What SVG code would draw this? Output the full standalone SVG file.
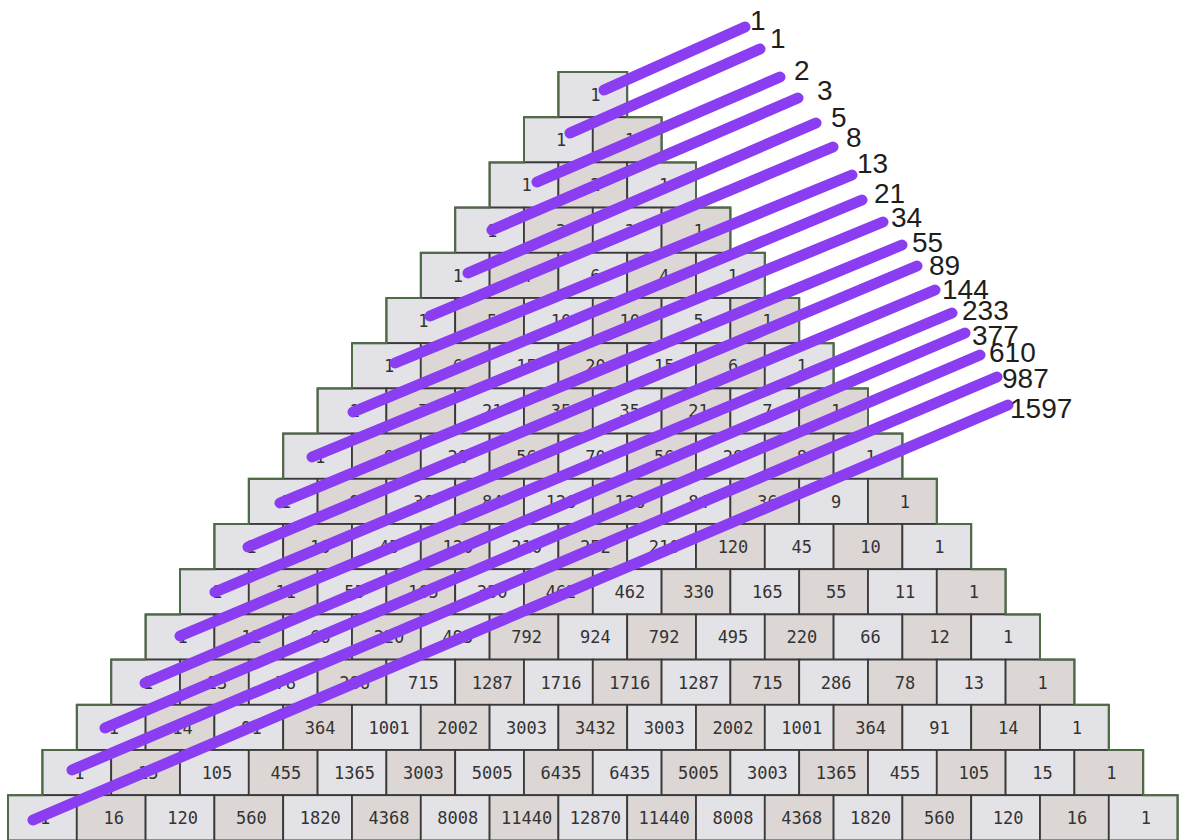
<svg xmlns="http://www.w3.org/2000/svg" width="1180" height="840" viewBox="0 0 1180 840">
<style>
.row rect{fill:#e3e2e7;stroke:#3a3a3a;stroke-width:1.8}
.row > g:nth-child(even) rect{fill:#dcd7d5}
.row text{font-family:"DejaVu Sans Mono",monospace;font-size:17px;fill:#333;text-anchor:middle}
.diag line{stroke:#8b3df2;stroke-width:11;stroke-linecap:round}
.lbl text{font-family:"Liberation Sans",Arial,sans-serif;font-size:28px;fill:#1e1e1e}
</style>
<rect width="1180" height="840" fill="#ffffff"/>
<g id="triangle">
<g id="row-0" class="row" transform="translate(558.4,72)">
<g id="c0-0"><rect x="0" width="68.8" height="45.2"/><text x="37" y="29">1</text></g>
</g>
<g id="row-1" class="row" transform="translate(524,117.2)">
<g id="c1-0"><rect x="0" width="68.8" height="45.2"/><text x="37" y="29">1</text></g>
<g id="c1-1"><rect x="68.8" width="68.8" height="45.2"/><text x="105.8" y="29">1</text></g>
</g>
<g id="row-2" class="row" transform="translate(489.6,162.4)">
<g id="c2-0"><rect x="0" width="68.8" height="45.2"/><text x="37" y="29">1</text></g>
<g id="c2-1"><rect x="68.8" width="68.8" height="45.2"/><text x="105.8" y="29">2</text></g>
<g id="c2-2"><rect x="137.6" width="68.8" height="45.2"/><text x="174.6" y="29">1</text></g>
</g>
<g id="row-3" class="row" transform="translate(455.2,207.6)">
<g id="c3-0"><rect x="0" width="68.8" height="45.2"/><text x="37" y="29">1</text></g>
<g id="c3-1"><rect x="68.8" width="68.8" height="45.2"/><text x="105.8" y="29">3</text></g>
<g id="c3-2"><rect x="137.6" width="68.8" height="45.2"/><text x="174.6" y="29">3</text></g>
<g id="c3-3"><rect x="206.4" width="68.8" height="45.2"/><text x="243.4" y="29">1</text></g>
</g>
<g id="row-4" class="row" transform="translate(420.8,252.8)">
<g id="c4-0"><rect x="0" width="68.8" height="45.2"/><text x="37" y="29">1</text></g>
<g id="c4-1"><rect x="68.8" width="68.8" height="45.2"/><text x="105.8" y="29">4</text></g>
<g id="c4-2"><rect x="137.6" width="68.8" height="45.2"/><text x="174.6" y="29">6</text></g>
<g id="c4-3"><rect x="206.4" width="68.8" height="45.2"/><text x="243.4" y="29">4</text></g>
<g id="c4-4"><rect x="275.2" width="68.8" height="45.2"/><text x="312.2" y="29">1</text></g>
</g>
<g id="row-5" class="row" transform="translate(386.4,298)">
<g id="c5-0"><rect x="0" width="68.8" height="45.2"/><text x="37" y="29">1</text></g>
<g id="c5-1"><rect x="68.8" width="68.8" height="45.2"/><text x="105.8" y="29">5</text></g>
<g id="c5-2"><rect x="137.6" width="68.8" height="45.2"/><text x="174.6" y="29">10</text></g>
<g id="c5-3"><rect x="206.4" width="68.8" height="45.2"/><text x="243.4" y="29">10</text></g>
<g id="c5-4"><rect x="275.2" width="68.8" height="45.2"/><text x="312.2" y="29">5</text></g>
<g id="c5-5"><rect x="344" width="68.8" height="45.2"/><text x="381" y="29">1</text></g>
</g>
<g id="row-6" class="row" transform="translate(352,343.2)">
<g id="c6-0"><rect x="0" width="68.8" height="45.2"/><text x="37" y="29">1</text></g>
<g id="c6-1"><rect x="68.8" width="68.8" height="45.2"/><text x="105.8" y="29">6</text></g>
<g id="c6-2"><rect x="137.6" width="68.8" height="45.2"/><text x="174.6" y="29">15</text></g>
<g id="c6-3"><rect x="206.4" width="68.8" height="45.2"/><text x="243.4" y="29">20</text></g>
<g id="c6-4"><rect x="275.2" width="68.8" height="45.2"/><text x="312.2" y="29">15</text></g>
<g id="c6-5"><rect x="344" width="68.8" height="45.2"/><text x="381" y="29">6</text></g>
<g id="c6-6"><rect x="412.8" width="68.8" height="45.2"/><text x="449.8" y="29">1</text></g>
</g>
<g id="row-7" class="row" transform="translate(317.6,388.4)">
<g id="c7-0"><rect x="0" width="68.8" height="45.2"/><text x="37" y="29">1</text></g>
<g id="c7-1"><rect x="68.8" width="68.8" height="45.2"/><text x="105.8" y="29">7</text></g>
<g id="c7-2"><rect x="137.6" width="68.8" height="45.2"/><text x="174.6" y="29">21</text></g>
<g id="c7-3"><rect x="206.4" width="68.8" height="45.2"/><text x="243.4" y="29">35</text></g>
<g id="c7-4"><rect x="275.2" width="68.8" height="45.2"/><text x="312.2" y="29">35</text></g>
<g id="c7-5"><rect x="344" width="68.8" height="45.2"/><text x="381" y="29">21</text></g>
<g id="c7-6"><rect x="412.8" width="68.8" height="45.2"/><text x="449.8" y="29">7</text></g>
<g id="c7-7"><rect x="481.6" width="68.8" height="45.2"/><text x="518.6" y="29">1</text></g>
</g>
<g id="row-8" class="row" transform="translate(283.2,433.6)">
<g id="c8-0"><rect x="0" width="68.8" height="45.2"/><text x="37" y="29">1</text></g>
<g id="c8-1"><rect x="68.8" width="68.8" height="45.2"/><text x="105.8" y="29">8</text></g>
<g id="c8-2"><rect x="137.6" width="68.8" height="45.2"/><text x="174.6" y="29">28</text></g>
<g id="c8-3"><rect x="206.4" width="68.8" height="45.2"/><text x="243.4" y="29">56</text></g>
<g id="c8-4"><rect x="275.2" width="68.8" height="45.2"/><text x="312.2" y="29">70</text></g>
<g id="c8-5"><rect x="344" width="68.8" height="45.2"/><text x="381" y="29">56</text></g>
<g id="c8-6"><rect x="412.8" width="68.8" height="45.2"/><text x="449.8" y="29">28</text></g>
<g id="c8-7"><rect x="481.6" width="68.8" height="45.2"/><text x="518.6" y="29">8</text></g>
<g id="c8-8"><rect x="550.4" width="68.8" height="45.2"/><text x="587.4" y="29">1</text></g>
</g>
<g id="row-9" class="row" transform="translate(248.8,478.8)">
<g id="c9-0"><rect x="0" width="68.8" height="45.2"/><text x="37" y="29">1</text></g>
<g id="c9-1"><rect x="68.8" width="68.8" height="45.2"/><text x="105.8" y="29">9</text></g>
<g id="c9-2"><rect x="137.6" width="68.8" height="45.2"/><text x="174.6" y="29">36</text></g>
<g id="c9-3"><rect x="206.4" width="68.8" height="45.2"/><text x="243.4" y="29">84</text></g>
<g id="c9-4"><rect x="275.2" width="68.8" height="45.2"/><text x="312.2" y="29">126</text></g>
<g id="c9-5"><rect x="344" width="68.8" height="45.2"/><text x="381" y="29">126</text></g>
<g id="c9-6"><rect x="412.8" width="68.8" height="45.2"/><text x="449.8" y="29">84</text></g>
<g id="c9-7"><rect x="481.6" width="68.8" height="45.2"/><text x="518.6" y="29">36</text></g>
<g id="c9-8"><rect x="550.4" width="68.8" height="45.2"/><text x="587.4" y="29">9</text></g>
<g id="c9-9"><rect x="619.2" width="68.8" height="45.2"/><text x="656.2" y="29">1</text></g>
</g>
<g id="row-10" class="row" transform="translate(214.4,524)">
<g id="c10-0"><rect x="0" width="68.8" height="45.2"/><text x="37" y="29">1</text></g>
<g id="c10-1"><rect x="68.8" width="68.8" height="45.2"/><text x="105.8" y="29">10</text></g>
<g id="c10-2"><rect x="137.6" width="68.8" height="45.2"/><text x="174.6" y="29">45</text></g>
<g id="c10-3"><rect x="206.4" width="68.8" height="45.2"/><text x="243.4" y="29">120</text></g>
<g id="c10-4"><rect x="275.2" width="68.8" height="45.2"/><text x="312.2" y="29">210</text></g>
<g id="c10-5"><rect x="344" width="68.8" height="45.2"/><text x="381" y="29">252</text></g>
<g id="c10-6"><rect x="412.8" width="68.8" height="45.2"/><text x="449.8" y="29">210</text></g>
<g id="c10-7"><rect x="481.6" width="68.8" height="45.2"/><text x="518.6" y="29">120</text></g>
<g id="c10-8"><rect x="550.4" width="68.8" height="45.2"/><text x="587.4" y="29">45</text></g>
<g id="c10-9"><rect x="619.2" width="68.8" height="45.2"/><text x="656.2" y="29">10</text></g>
<g id="c10-10"><rect x="688" width="68.8" height="45.2"/><text x="725" y="29">1</text></g>
</g>
<g id="row-11" class="row" transform="translate(180,569.2)">
<g id="c11-0"><rect x="0" width="68.8" height="45.2"/><text x="37" y="29">1</text></g>
<g id="c11-1"><rect x="68.8" width="68.8" height="45.2"/><text x="105.8" y="29">11</text></g>
<g id="c11-2"><rect x="137.6" width="68.8" height="45.2"/><text x="174.6" y="29">55</text></g>
<g id="c11-3"><rect x="206.4" width="68.8" height="45.2"/><text x="243.4" y="29">165</text></g>
<g id="c11-4"><rect x="275.2" width="68.8" height="45.2"/><text x="312.2" y="29">330</text></g>
<g id="c11-5"><rect x="344" width="68.8" height="45.2"/><text x="381" y="29">462</text></g>
<g id="c11-6"><rect x="412.8" width="68.8" height="45.2"/><text x="449.8" y="29">462</text></g>
<g id="c11-7"><rect x="481.6" width="68.8" height="45.2"/><text x="518.6" y="29">330</text></g>
<g id="c11-8"><rect x="550.4" width="68.8" height="45.2"/><text x="587.4" y="29">165</text></g>
<g id="c11-9"><rect x="619.2" width="68.8" height="45.2"/><text x="656.2" y="29">55</text></g>
<g id="c11-10"><rect x="688" width="68.8" height="45.2"/><text x="725" y="29">11</text></g>
<g id="c11-11"><rect x="756.8" width="68.8" height="45.2"/><text x="793.8" y="29">1</text></g>
</g>
<g id="row-12" class="row" transform="translate(145.6,614.4)">
<g id="c12-0"><rect x="0" width="68.8" height="45.2"/><text x="37" y="29">1</text></g>
<g id="c12-1"><rect x="68.8" width="68.8" height="45.2"/><text x="105.8" y="29">12</text></g>
<g id="c12-2"><rect x="137.6" width="68.8" height="45.2"/><text x="174.6" y="29">66</text></g>
<g id="c12-3"><rect x="206.4" width="68.8" height="45.2"/><text x="243.4" y="29">220</text></g>
<g id="c12-4"><rect x="275.2" width="68.8" height="45.2"/><text x="312.2" y="29">495</text></g>
<g id="c12-5"><rect x="344" width="68.8" height="45.2"/><text x="381" y="29">792</text></g>
<g id="c12-6"><rect x="412.8" width="68.8" height="45.2"/><text x="449.8" y="29">924</text></g>
<g id="c12-7"><rect x="481.6" width="68.8" height="45.2"/><text x="518.6" y="29">792</text></g>
<g id="c12-8"><rect x="550.4" width="68.8" height="45.2"/><text x="587.4" y="29">495</text></g>
<g id="c12-9"><rect x="619.2" width="68.8" height="45.2"/><text x="656.2" y="29">220</text></g>
<g id="c12-10"><rect x="688" width="68.8" height="45.2"/><text x="725" y="29">66</text></g>
<g id="c12-11"><rect x="756.8" width="68.8" height="45.2"/><text x="793.8" y="29">12</text></g>
<g id="c12-12"><rect x="825.6" width="68.8" height="45.2"/><text x="862.6" y="29">1</text></g>
</g>
<g id="row-13" class="row" transform="translate(111.2,659.6)">
<g id="c13-0"><rect x="0" width="68.8" height="45.2"/><text x="37" y="29">1</text></g>
<g id="c13-1"><rect x="68.8" width="68.8" height="45.2"/><text x="105.8" y="29">13</text></g>
<g id="c13-2"><rect x="137.6" width="68.8" height="45.2"/><text x="174.6" y="29">78</text></g>
<g id="c13-3"><rect x="206.4" width="68.8" height="45.2"/><text x="243.4" y="29">286</text></g>
<g id="c13-4"><rect x="275.2" width="68.8" height="45.2"/><text x="312.2" y="29">715</text></g>
<g id="c13-5"><rect x="344" width="68.8" height="45.2"/><text x="381" y="29">1287</text></g>
<g id="c13-6"><rect x="412.8" width="68.8" height="45.2"/><text x="449.8" y="29">1716</text></g>
<g id="c13-7"><rect x="481.6" width="68.8" height="45.2"/><text x="518.6" y="29">1716</text></g>
<g id="c13-8"><rect x="550.4" width="68.8" height="45.2"/><text x="587.4" y="29">1287</text></g>
<g id="c13-9"><rect x="619.2" width="68.8" height="45.2"/><text x="656.2" y="29">715</text></g>
<g id="c13-10"><rect x="688" width="68.8" height="45.2"/><text x="725" y="29">286</text></g>
<g id="c13-11"><rect x="756.8" width="68.8" height="45.2"/><text x="793.8" y="29">78</text></g>
<g id="c13-12"><rect x="825.6" width="68.8" height="45.2"/><text x="862.6" y="29">13</text></g>
<g id="c13-13"><rect x="894.4" width="68.8" height="45.2"/><text x="931.4" y="29">1</text></g>
</g>
<g id="row-14" class="row" transform="translate(76.8,704.8)">
<g id="c14-0"><rect x="0" width="68.8" height="45.2"/><text x="37" y="29">1</text></g>
<g id="c14-1"><rect x="68.8" width="68.8" height="45.2"/><text x="105.8" y="29">14</text></g>
<g id="c14-2"><rect x="137.6" width="68.8" height="45.2"/><text x="174.6" y="29">91</text></g>
<g id="c14-3"><rect x="206.4" width="68.8" height="45.2"/><text x="243.4" y="29">364</text></g>
<g id="c14-4"><rect x="275.2" width="68.8" height="45.2"/><text x="312.2" y="29">1001</text></g>
<g id="c14-5"><rect x="344" width="68.8" height="45.2"/><text x="381" y="29">2002</text></g>
<g id="c14-6"><rect x="412.8" width="68.8" height="45.2"/><text x="449.8" y="29">3003</text></g>
<g id="c14-7"><rect x="481.6" width="68.8" height="45.2"/><text x="518.6" y="29">3432</text></g>
<g id="c14-8"><rect x="550.4" width="68.8" height="45.2"/><text x="587.4" y="29">3003</text></g>
<g id="c14-9"><rect x="619.2" width="68.8" height="45.2"/><text x="656.2" y="29">2002</text></g>
<g id="c14-10"><rect x="688" width="68.8" height="45.2"/><text x="725" y="29">1001</text></g>
<g id="c14-11"><rect x="756.8" width="68.8" height="45.2"/><text x="793.8" y="29">364</text></g>
<g id="c14-12"><rect x="825.6" width="68.8" height="45.2"/><text x="862.6" y="29">91</text></g>
<g id="c14-13"><rect x="894.4" width="68.8" height="45.2"/><text x="931.4" y="29">14</text></g>
<g id="c14-14"><rect x="963.2" width="68.8" height="45.2"/><text x="1000.2" y="29">1</text></g>
</g>
<g id="row-15" class="row" transform="translate(42.4,750)">
<g id="c15-0"><rect x="0" width="68.8" height="45.2"/><text x="37" y="29">1</text></g>
<g id="c15-1"><rect x="68.8" width="68.8" height="45.2"/><text x="105.8" y="29">15</text></g>
<g id="c15-2"><rect x="137.6" width="68.8" height="45.2"/><text x="174.6" y="29">105</text></g>
<g id="c15-3"><rect x="206.4" width="68.8" height="45.2"/><text x="243.4" y="29">455</text></g>
<g id="c15-4"><rect x="275.2" width="68.8" height="45.2"/><text x="312.2" y="29">1365</text></g>
<g id="c15-5"><rect x="344" width="68.8" height="45.2"/><text x="381" y="29">3003</text></g>
<g id="c15-6"><rect x="412.8" width="68.8" height="45.2"/><text x="449.8" y="29">5005</text></g>
<g id="c15-7"><rect x="481.6" width="68.8" height="45.2"/><text x="518.6" y="29">6435</text></g>
<g id="c15-8"><rect x="550.4" width="68.8" height="45.2"/><text x="587.4" y="29">6435</text></g>
<g id="c15-9"><rect x="619.2" width="68.8" height="45.2"/><text x="656.2" y="29">5005</text></g>
<g id="c15-10"><rect x="688" width="68.8" height="45.2"/><text x="725" y="29">3003</text></g>
<g id="c15-11"><rect x="756.8" width="68.8" height="45.2"/><text x="793.8" y="29">1365</text></g>
<g id="c15-12"><rect x="825.6" width="68.8" height="45.2"/><text x="862.6" y="29">455</text></g>
<g id="c15-13"><rect x="894.4" width="68.8" height="45.2"/><text x="931.4" y="29">105</text></g>
<g id="c15-14"><rect x="963.2" width="68.8" height="45.2"/><text x="1000.2" y="29">15</text></g>
<g id="c15-15"><rect x="1032" width="68.8" height="45.2"/><text x="1069" y="29">1</text></g>
</g>
<g id="row-16" class="row" transform="translate(8,795.2)">
<g id="c16-0"><rect x="0" width="68.8" height="45.2"/><text x="37" y="29">1</text></g>
<g id="c16-1"><rect x="68.8" width="68.8" height="45.2"/><text x="105.8" y="29">16</text></g>
<g id="c16-2"><rect x="137.6" width="68.8" height="45.2"/><text x="174.6" y="29">120</text></g>
<g id="c16-3"><rect x="206.4" width="68.8" height="45.2"/><text x="243.4" y="29">560</text></g>
<g id="c16-4"><rect x="275.2" width="68.8" height="45.2"/><text x="312.2" y="29">1820</text></g>
<g id="c16-5"><rect x="344" width="68.8" height="45.2"/><text x="381" y="29">4368</text></g>
<g id="c16-6"><rect x="412.8" width="68.8" height="45.2"/><text x="449.8" y="29">8008</text></g>
<g id="c16-7"><rect x="481.6" width="68.8" height="45.2"/><text x="518.6" y="29">11440</text></g>
<g id="c16-8"><rect x="550.4" width="68.8" height="45.2"/><text x="587.4" y="29">12870</text></g>
<g id="c16-9"><rect x="619.2" width="68.8" height="45.2"/><text x="656.2" y="29">11440</text></g>
<g id="c16-10"><rect x="688" width="68.8" height="45.2"/><text x="725" y="29">8008</text></g>
<g id="c16-11"><rect x="756.8" width="68.8" height="45.2"/><text x="793.8" y="29">4368</text></g>
<g id="c16-12"><rect x="825.6" width="68.8" height="45.2"/><text x="862.6" y="29">1820</text></g>
<g id="c16-13"><rect x="894.4" width="68.8" height="45.2"/><text x="931.4" y="29">560</text></g>
<g id="c16-14"><rect x="963.2" width="68.8" height="45.2"/><text x="1000.2" y="29">120</text></g>
<g id="c16-15"><rect x="1032" width="68.8" height="45.2"/><text x="1069" y="29">16</text></g>
<g id="c16-16"><rect x="1100.8" width="68.8" height="45.2"/><text x="1137.8" y="29">1</text></g>
</g>
<path id="outline" fill="none" stroke="#4d6b44" stroke-width="2" d="M8,840.4 V795.2 H42.4 V750 H76.8 V704.8 H111.2 V659.6 H145.6 V614.4 H180 V569.2 H214.4 V524 H248.8 V478.8 H283.2 V433.6 H317.6 V388.4 H352 V343.2 H386.4 V298 H420.8 V252.8 H455.2 V207.6 H489.6 V162.4 H524 V117.2 H558.4 V72 H627.2 V117.2 H661.6 V162.4 H696 V207.6 H730.4 V252.8 H764.8 V298 H799.2 V343.2 H833.6 V388.4 H868 V433.6 H902.4 V478.8 H936.8 V524 H971.2 V569.2 H1005.6 V614.4 H1040 V659.6 H1074.4 V704.8 H1108.8 V750 H1143.2 V795.2 H1177.6 V840.4"/>
</g>
<g id="diagonals" class="diag">
<line x1="604" y1="90" x2="745" y2="27"/>
<line x1="570" y1="133" x2="760" y2="49"/>
<line x1="537" y1="182" x2="780" y2="77"/>
<line x1="492" y1="230" x2="798" y2="98"/>
<line x1="468" y1="273" x2="816" y2="123"/>
<line x1="430" y1="316" x2="833" y2="147"/>
<line x1="395" y1="363" x2="852" y2="175"/>
<line x1="353" y1="412" x2="862" y2="200"/>
<line x1="312" y1="457" x2="883" y2="222"/>
<line x1="280" y1="503" x2="902" y2="245"/>
<line x1="248" y1="547" x2="917" y2="266"/>
<line x1="215" y1="592" x2="935" y2="290"/>
<line x1="180" y1="636" x2="952" y2="313"/>
<line x1="145" y1="683" x2="965" y2="333"/>
<line x1="105" y1="728" x2="980" y2="355"/>
<line x1="72" y1="770" x2="997" y2="377"/>
<line x1="33" y1="820" x2="1008" y2="405"/>
</g>
<g id="labels" class="lbl">
<text x="750" y="30">1</text>
<text x="770" y="48">1</text>
<text x="794" y="80">2</text>
<text x="817" y="100">3</text>
<text x="831" y="127">5</text>
<text x="846" y="147">8</text>
<text x="857" y="173">13</text>
<text x="874" y="203">21</text>
<text x="891" y="227">34</text>
<text x="912" y="252">55</text>
<text x="929" y="275">89</text>
<text x="942" y="299">144</text>
<text x="962" y="320">233</text>
<text x="972" y="345">377</text>
<text x="989" y="362">610</text>
<text x="1002" y="388">987</text>
<text x="1010" y="418">1597</text>
</g>
</svg>
